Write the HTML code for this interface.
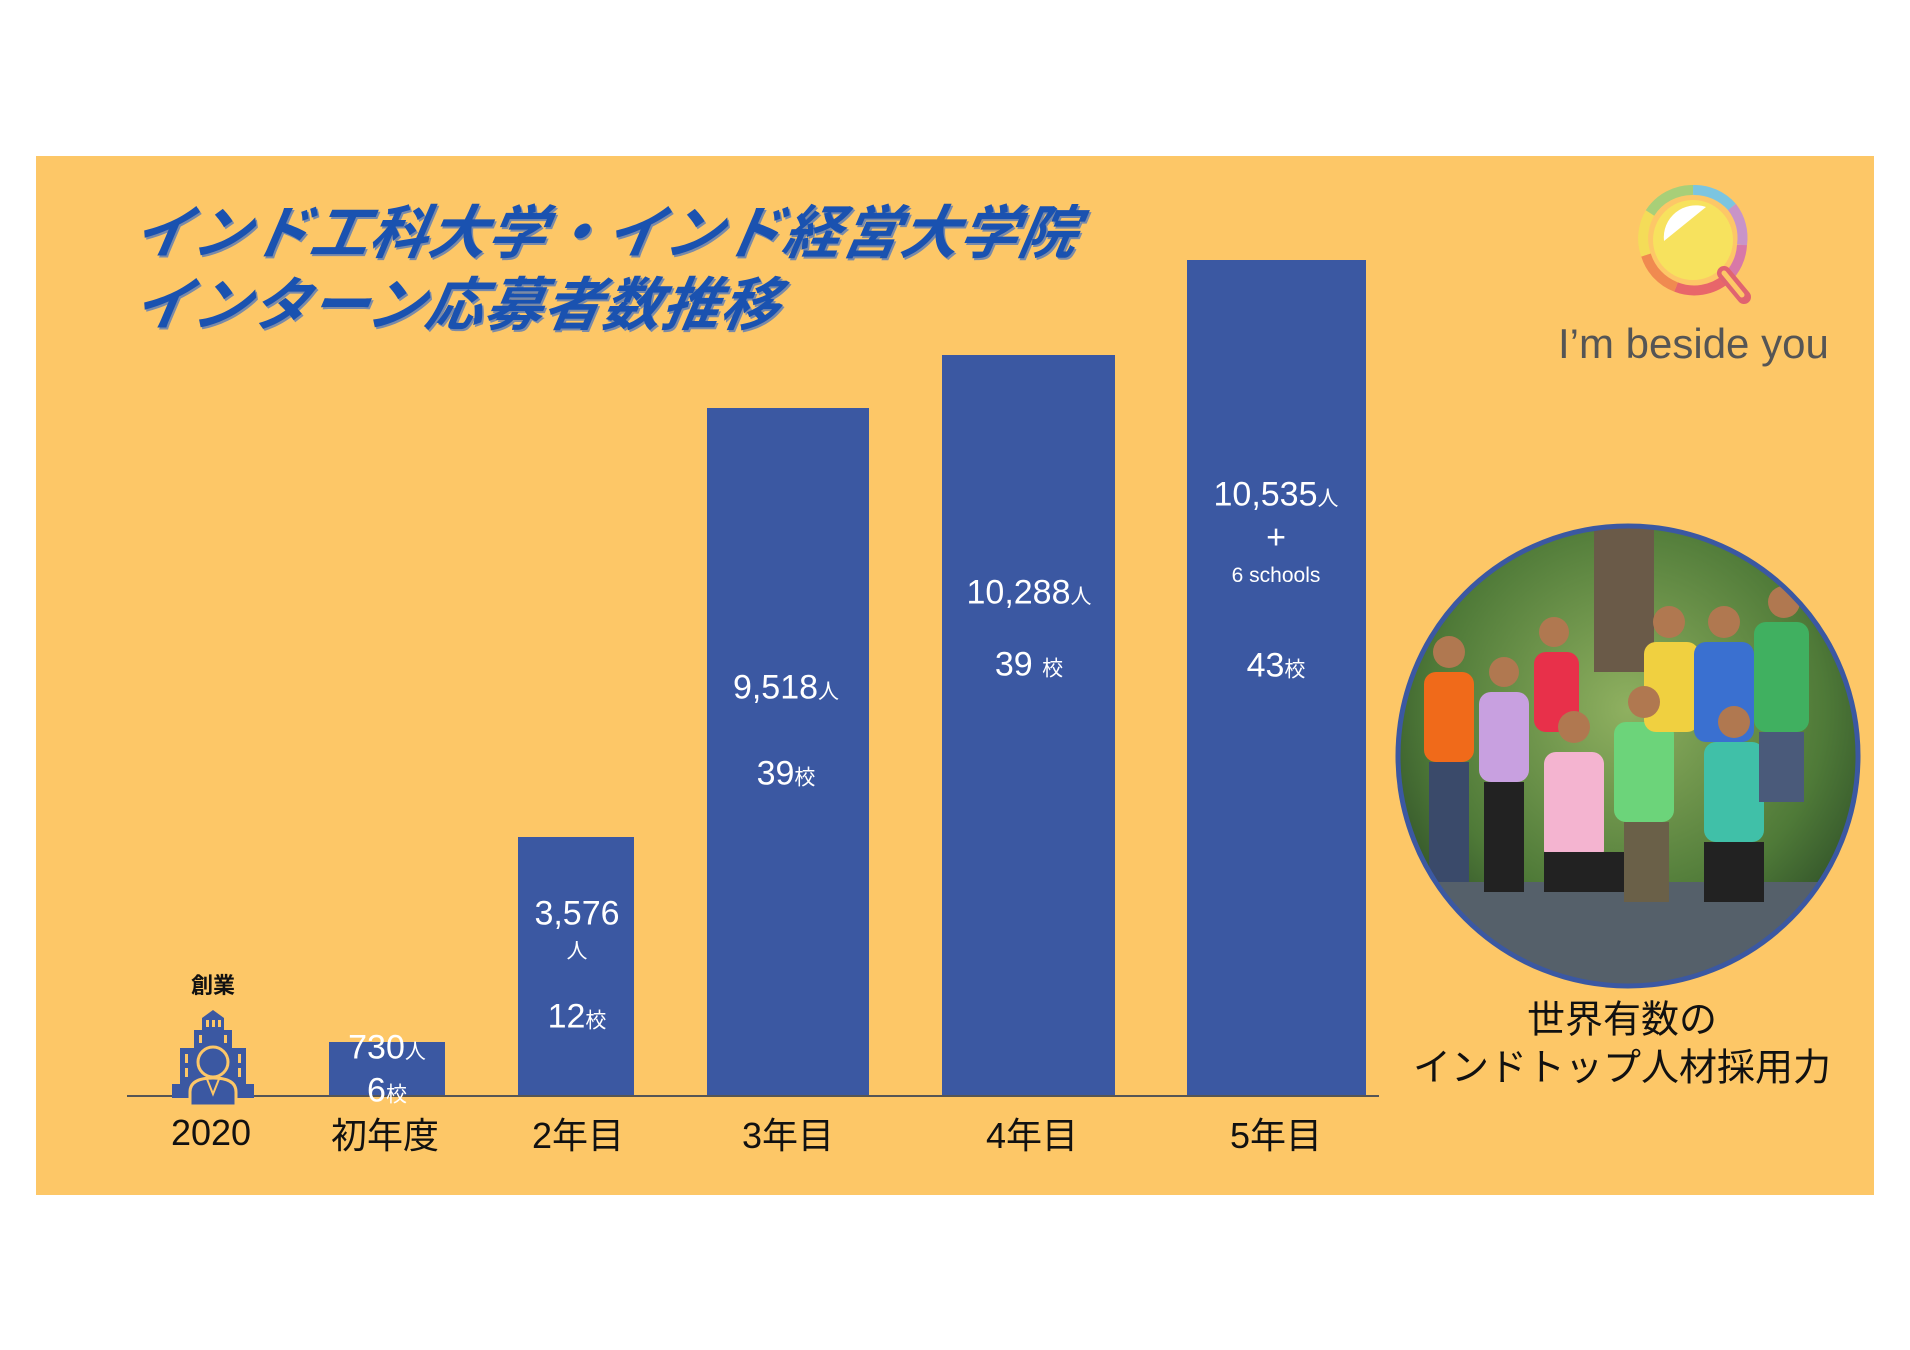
<!DOCTYPE html>
<html><head><meta charset="utf-8"><style>
body{margin:0;width:1910px;height:1350px;background:#fff;position:relative;overflow:hidden;font-family:"Liberation Sans","Noto Sans CJK JP",sans-serif}
.p{position:absolute}
.bar{position:absolute;background:#3b58a2}
.c{position:absolute;transform:translate(-50%,-50%);white-space:nowrap;text-align:center}
.w{color:#fff;font-size:34px}
.s{font-size:21px}
.x{color:#111;font-size:36px}
.t{position:absolute;left:128px;color:#1a52b0;font-size:58px;font-weight:bold;font-style:italic;letter-spacing:1px;white-space:nowrap;text-shadow:2px 2px 0 #7a8aa8;font-family:"Noto Sans CJK JP",sans-serif;transform:skewX(-10deg);transform-origin:left bottom}
</style></head><body>
<div class="p" style="left:36px;top:156px;width:1838px;height:1039px;background:#fdc767"></div>
<div class="t" style="top:186px">インド工科大学・インド経営大学院</div>
<div class="t" style="top:258px">インターン応募者数推移</div>

<!-- logo -->
<svg class="p" style="left:1636px;top:185px" width="120" height="130" viewBox="0 0 120 130">
<g fill="none" stroke-width="10">
<path d="M57 5 A50 50 0 0 1 96 22" stroke="#7cc5e0"/>
<path d="M96 22 A50 50 0 0 1 106 60" stroke="#c894c8"/>
<path d="M106 60 A50 50 0 0 1 90 94" stroke="#d878a8"/>
<path d="M90 94 A50 50 0 0 1 40 102" stroke="#e8666a"/>
<path d="M40 102 A50 50 0 0 1 10 70" stroke="#f08a50"/>
<path d="M10 70 A50 50 0 0 1 14 28" stroke="#f4dc58"/>
<path d="M14 28 A50 50 0 0 1 57 5" stroke="#a8cf78"/>
</g>
<circle cx="57" cy="55" r="40" fill="#f7e25e"/>
<path d="M28 56 A32 32 0 0 1 70 22 Z" fill="#fff"/>
<line x1="88" y1="88" x2="108" y2="112" stroke="#e06470" stroke-width="14" stroke-linecap="round"/>
<line x1="88" y1="88" x2="106" y2="110" stroke="#fdc767" stroke-width="5" stroke-linecap="round"/>
</svg>
<div class="p" style="left:1558px;top:320px;font-size:42px;color:#555;letter-spacing:0px;font-weight:300">I’m beside you</div>

<!-- bars -->
<div class="bar" style="left:329px;top:1042px;width:116px;height:55px"></div>
<div class="bar" style="left:518px;top:837px;width:116px;height:260px"></div>
<div class="bar" style="left:707px;top:408px;width:162px;height:689px"></div>
<div class="bar" style="left:942px;top:355px;width:173px;height:742px"></div>
<div class="bar" style="left:1187px;top:260px;width:179px;height:837px"></div>
<div class="p" style="left:127px;top:1095px;width:1252px;height:2px;background:#555"></div>

<!-- icon -->
<svg class="p" style="left:172px;top:1010px" width="82" height="96" viewBox="0 0 82 96">
<g fill="#3b58a2">
<path d="M41 0 L52 8 V20 H30 V8 Z"/>
<rect x="22" y="20" width="38" height="18"/>
<rect x="8" y="38" width="66" height="50"/>
<rect x="0" y="74" width="82" height="14"/>
</g>
<g fill="#fdc767">
<rect x="34" y="10" width="3" height="7"/><rect x="40" y="10" width="3" height="7"/><rect x="46" y="10" width="3" height="7"/>
<rect x="27" y="25" width="3" height="8"/><rect x="52" y="25" width="3" height="8"/>
<rect x="13" y="44" width="3" height="9"/><rect x="66" y="44" width="3" height="9"/>
<rect x="13" y="58" width="3" height="9"/><rect x="66" y="58" width="3" height="9"/>
</g>
<circle cx="41" cy="52" r="15" fill="#3b58a2" stroke="#fdc767" stroke-width="3"/>
<path d="M18 96 V82 Q18 68 41 68 Q64 68 64 82 V96 Z" fill="#3b58a2" stroke="#fdc767" stroke-width="3"/>
<path d="M35 69 L41 84 L47 69" fill="none" stroke="#fdc767" stroke-width="2"/>
</svg>
<div class="c" style="left:213px;top:984px;font-size:22px;font-weight:bold;color:#111">創業</div>

<!-- bar labels -->
<div class="c w" style="left:387px;top:1048px">730<span class="s">人</span></div>
<div class="c w" style="left:387px;top:1091px">6<span class="s">校</span></div>
<div class="c w" style="left:577px;top:914px">3,576</div>
<div class="c w s" style="left:577px;top:950px">人</div>
<div class="c w" style="left:577px;top:1017px">12<span class="s">校</span></div>
<div class="c w" style="left:786px;top:688px">9,518<span class="s">人</span></div>
<div class="c w" style="left:786px;top:774px">39<span class="s">校</span></div>
<div class="c w" style="left:1029px;top:593px">10,288<span class="s">人</span></div>
<div class="c w" style="left:1029px;top:665px">39 <span class="s">校</span></div>
<div class="c w" style="left:1276px;top:495px">10,535<span class="s">人</span></div>
<div class="c w" style="left:1276px;top:538px">+</div>
<div class="c w" style="left:1276px;top:576px;font-size:21px">6 schools</div>
<div class="c w" style="left:1276px;top:666px">43<span class="s">校</span></div>

<!-- x labels -->
<div class="c x" style="left:211px;top:1133px">2020</div>
<div class="c x" style="left:385px;top:1133px">初年度</div>
<div class="c x" style="left:578px;top:1133px">2年目</div>
<div class="c x" style="left:788px;top:1133px">3年目</div>
<div class="c x" style="left:1032px;top:1133px">4年目</div>
<div class="c x" style="left:1276px;top:1133px">5年目</div>

<!-- photo -->
<svg class="p" style="left:1394px;top:522px" width="468" height="468" viewBox="0 0 468 468">
<defs><clipPath id="cp"><circle cx="234" cy="234" r="230"/></clipPath>
<radialGradient id="g" cx="50%" cy="40%" r="60%"><stop offset="0" stop-color="#8fb060"/><stop offset="0.7" stop-color="#4f7a38"/><stop offset="1" stop-color="#2f4f28"/></radialGradient></defs>
<g clip-path="url(#cp)">
<rect width="468" height="468" fill="url(#g)"/>
<rect x="0" y="360" width="468" height="108" fill="#55606a"/>
<rect x="200" y="0" width="60" height="150" fill="#6a5a48"/>
<g>
<rect x="30" y="150" width="50" height="90" rx="12" fill="#f06a1a"/>
<rect x="35" y="240" width="40" height="120" fill="#3a4a6a"/>
<rect x="85" y="170" width="50" height="90" rx="12" fill="#c8a0e0"/>
<rect x="90" y="260" width="40" height="110" fill="#222"/>
<rect x="140" y="130" width="45" height="80" rx="12" fill="#e8304a"/>
<rect x="150" y="230" width="60" height="110" rx="12" fill="#f4b4d0"/>
<rect x="150" y="330" width="80" height="40" fill="#222"/>
<rect x="220" y="200" width="60" height="100" rx="12" fill="#6cd47a"/>
<rect x="230" y="300" width="45" height="80" fill="#6a6048"/>
<rect x="250" y="120" width="55" height="90" rx="12" fill="#f0d040"/>
<rect x="300" y="120" width="60" height="100" rx="12" fill="#3a70d0"/>
<rect x="310" y="220" width="60" height="100" rx="12" fill="#40c0a8"/>
<rect x="310" y="320" width="60" height="60" fill="#222"/>
<rect x="360" y="100" width="55" height="110" rx="12" fill="#40b060"/>
<rect x="365" y="210" width="45" height="70" fill="#4a5a7a"/>
</g>
<g fill="#b07850">
<circle cx="55" cy="130" r="16"/><circle cx="110" cy="150" r="15"/><circle cx="160" cy="110" r="15"/>
<circle cx="180" cy="205" r="16"/><circle cx="250" cy="180" r="16"/><circle cx="275" cy="100" r="16"/>
<circle cx="330" cy="100" r="16"/><circle cx="340" cy="200" r="16"/><circle cx="390" cy="80" r="16"/>
</g>
</g>
<circle cx="234" cy="234" r="230" fill="none" stroke="#3b58a2" stroke-width="5"/>
</svg>
<div class="c" style="left:1622px;top:1016px;font-size:38px;color:#111">世界有数の</div>
<div class="c" style="left:1622px;top:1064px;font-size:38px;color:#111">インドトップ人材採用力</div>
</body></html>
